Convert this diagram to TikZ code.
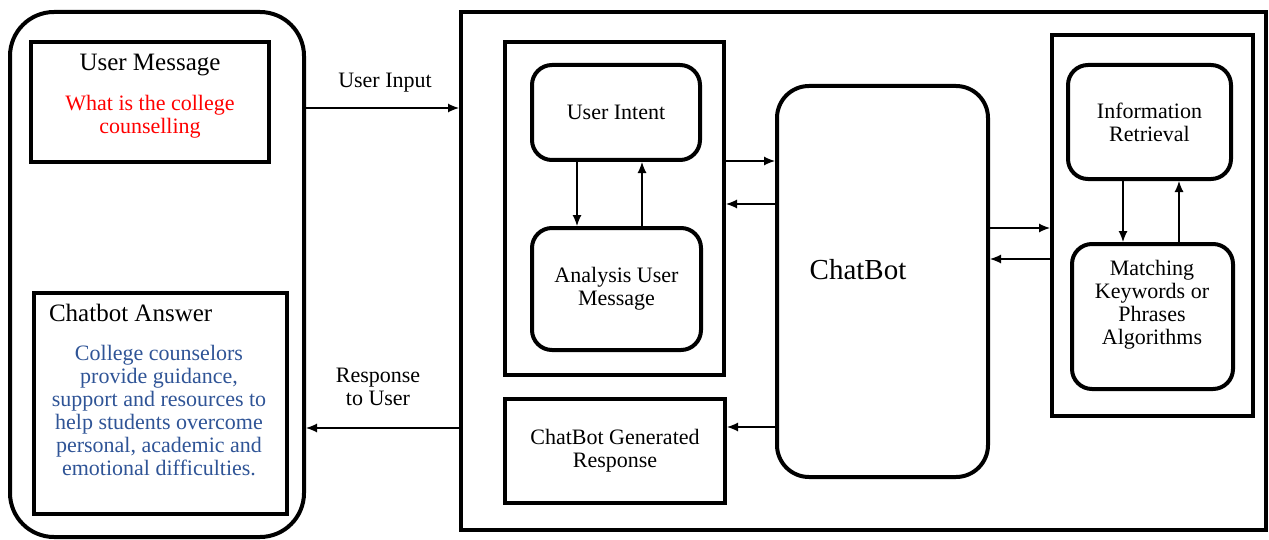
\documentclass[tikz,border=0pt]{standalone}
\usepackage{fontspec}
\setmainfont{Liberation Serif}
\usetikzlibrary{arrows.meta}
\definecolor{msgred}{RGB}{255,0,0}
\definecolor{ansblue}{RGB}{47,84,150}
\tikzset{
  sbox/.style={draw, line width=2pt, inner sep=0pt},
  rbox/.style={sbox, rounded corners=10pt},
  txt/.style={font=\fontsize{11}{11.5}\selectfont, align=center},
  title/.style={font=\fontsize{12.5}{14}\selectfont},
  arr/.style={-{Latex[length=5.5pt,width=4.5pt]}, line width=0.6pt}
}
\begin{document}
\begin{tikzpicture}[x=0.5pt, y=-0.5pt]
        \useasboundingbox (0,0) rectangle (1269,540);

        % user side
        \node[rbox, rounded corners=22pt, minimum width=147pt, minimum height=262.5pt] (userside) at (157,274.5) {};
        \node[sbox, minimum width=119pt, minimum height=60pt] (usermsg) at (150,102) {};
        \node[title] (usermsgtitle) at (150,65) {User Message};
        \node[txt, text=msgred] (question) at (150,117) {What is the college\\counselling};
        \node[sbox, minimum width=126.5pt, minimum height=110.5pt] (answer) at (160.5,403.5) {};
        \node[title, anchor=west] (answertitle) at (42,313) {Chatbot Answer};
        \node[txt, text=ansblue] (reply) at (159,411) {College counselors\\provide guidance,\\support and resources to\\help students overcome\\personal, academic and\\emotional difficulties.};

        % chatbot side
        \node[sbox, minimum width=402.5pt, minimum height=259pt] (system) at (863.5,271) {};
        \node[sbox, minimum width=109.5pt, minimum height=166.5pt] (analysisgrp) at (614.5,208.5) {};
        \node[rbox, txt, minimum width=84pt, minimum height=47.5pt] (intent) at (616,112.5) {User Intent};
        \node[rbox, txt, minimum width=84.5pt, minimum height=61pt] (analysis) at (616.5,289) {Analysis User\\Message};
        \node[sbox, txt, minimum width=110pt, minimum height=52pt] (generated) at (615,451) {ChatBot Generated\\Response};
        \node[rbox, rounded corners=16pt, minimum width=105.5pt, minimum height=195.5pt] (chatbot) at (882.5,281.5) {};
        \node[font=\fontsize{14.5}{17}\selectfont] (chatbotlabel) at (858,270) {ChatBot};
        \node[sbox, minimum width=100.5pt, minimum height=190.5pt] (retrievalgrp) at (1152.5,225.5) {};
        \node[rbox, txt, minimum width=81.5pt, minimum height=57pt] (retrieval) at (1149.5,122) {Information\\Retrieval};
        \node[rbox, minimum width=80.5pt, minimum height=72.5pt] (matching) at (1152.5,316.5) {};
        \node[txt] (matchinglabel) at (1152,304.5) {Matching\\Keywords or\\Phrases\\Algorithms};

        % input and response
        \draw[arr] (userside.east |- 0,108) -- (system.west |- 0,108);
        \node[txt] (inputlabel) at (385,83) {User Input};
        \draw[arr] (system.west |- 0,428) -- (userside.east |- 0,428);
        \node[txt] (responselabel) at (378,387) {Response\\to User};

        % inner links
        \draw[arr] (intent.south -| 577,0) -- (analysis.north -| 577,0);
        \draw[arr] (analysis.north -| 642,0) -- (intent.south -| 642,0);
        \draw[arr] (analysisgrp.east |- 0,161) -- (chatbot.west |- 0,161);
        \draw[arr] (chatbot.west |- 0,204) -- (analysisgrp.east |- 0,204);
        \draw[arr] (chatbot.west |- 0,427) -- (generated.east |- 0,427);
        \draw[arr] (chatbot.east |- 0,228) -- (retrievalgrp.west |- 0,228);
        \draw[arr] (retrievalgrp.west |- 0,259) -- (chatbot.east |- 0,259);
        \draw[arr] (retrieval.south -| 1123,0) -- (matching.north -| 1123,0);
        \draw[arr] (matching.north -| 1179,0) -- (retrieval.south -| 1179,0);

\end{tikzpicture}
\end{document}
